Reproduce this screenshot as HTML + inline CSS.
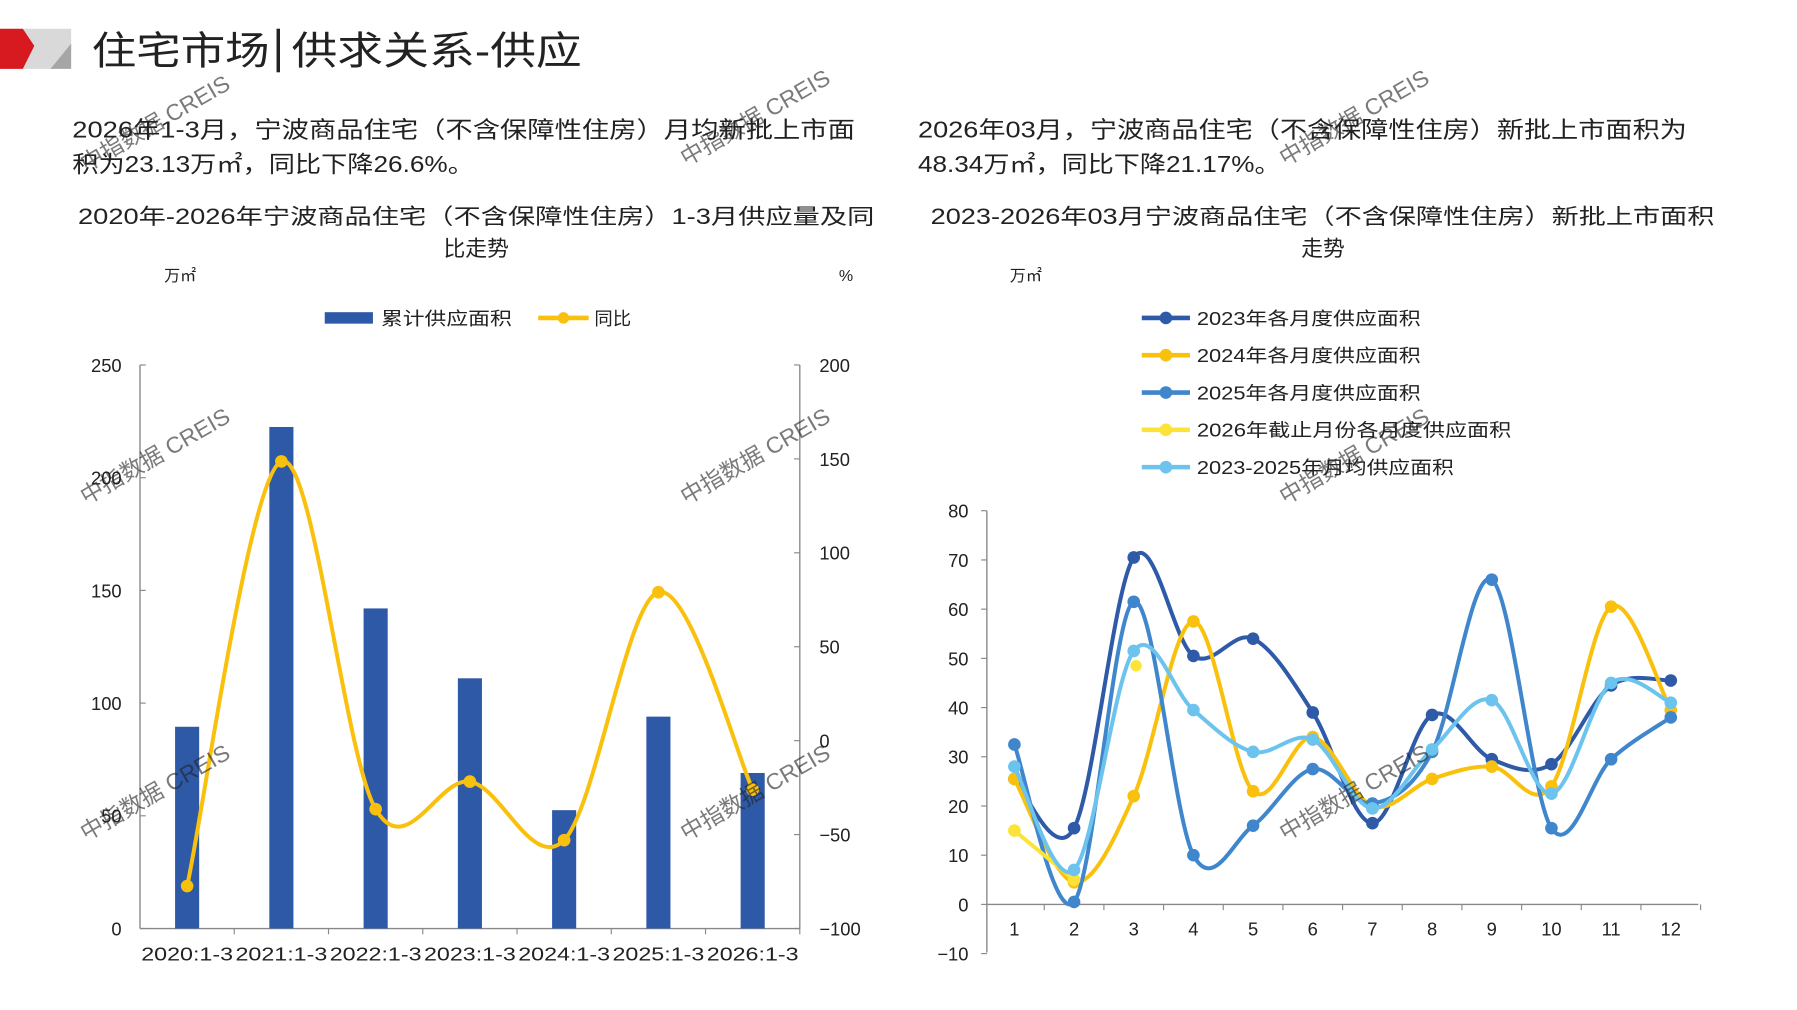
<!DOCTYPE html>
<html><head><meta charset="utf-8"><style>
html,body{margin:0;padding:0;background:#fff;width:1797px;height:1010px;overflow:hidden}
svg{display:block}
text{font-family:"Liberation Sans","Noto Sans CJK SC",sans-serif;fill:#222}
</style></head><body>
<svg id="s" width="1797" height="1010" viewBox="0 0 1566 880" preserveAspectRatio="none" xmlns="http://www.w3.org/2000/svg">
<polygon points="0,25 20,25 30,40 20,60 0,60" fill="#d71920"/>
<polygon points="20,25 62,25 62,45 48,60 20,60 30,40" fill="#d9d9d9"/>
<polygon points="62,38 62,60 44,60" fill="#a6a6a6"/>
<text x="80" y="56" font-size="34" textLength="155" lengthAdjust="spacingAndGlyphs">住宅市场</text>
<rect x="241" y="25" width="3" height="38" fill="#222"/>
<text x="254" y="56" font-size="34" textLength="253" lengthAdjust="spacingAndGlyphs">供求关系-供应</text>

<text x="63" y="120" font-size="20" textLength="682" lengthAdjust="spacingAndGlyphs">2026年1-3月，宁波商品住宅（不含保障性住房）月均新批上市面</text>
<text x="63" y="150" font-size="20" textLength="350" lengthAdjust="spacingAndGlyphs">积为23.13万㎡，同比下降26.6%。</text>
<text x="800" y="120" font-size="20" textLength="670" lengthAdjust="spacingAndGlyphs">2026年03月，宁波商品住宅（不含保障性住房）新批上市面积为</text>
<text x="800" y="150" font-size="20" textLength="316" lengthAdjust="spacingAndGlyphs">48.34万㎡，同比下降21.17%。</text>

<text x="68" y="195" font-size="19" textLength="694" lengthAdjust="spacingAndGlyphs">2020年-2026年宁波商品住宅（不含保障性住房）1-3月供应量及同</text>
<text x="415" y="223" font-size="19" text-anchor="middle">比走势</text>
<text x="811" y="195" font-size="19" textLength="683" lengthAdjust="spacingAndGlyphs">2023-2026年03月宁波商品住宅（不含保障性住房）新批上市面积</text>
<text x="1153" y="223" font-size="19" text-anchor="middle">走势</text>
<text x="143" y="245" font-size="14">万㎡</text>
<text x="731" y="245" font-size="14">%</text>
<text x="880" y="245" font-size="14">万㎡</text>

<rect x="283" y="272" width="42" height="10" fill="#2E59A7"/>
<text x="332" y="283" font-size="16" textLength="114" lengthAdjust="spacingAndGlyphs">累计供应面积</text>
<line x1="469" y1="277" x2="513" y2="277" stroke="#F9C10E" stroke-width="4"/>
<circle cx="491" cy="277" r="5" fill="#F9C10E"/>
<text x="518" y="283" font-size="16">同比</text>

<g id="left"></g>
<g id="right"></g>
<g id="rleg"></g>

<g fill="#bbb" font-size="20" opacity="0.6">
<text transform="translate(75,150) rotate(-30)">中指数据 CREIS</text>
<text transform="translate(598,145) rotate(-30)">中指数据 CREIS</text>
<text transform="translate(1120,145) rotate(-30)">中指数据 CREIS</text>
<text transform="translate(75,440) rotate(-30)">中指数据 CREIS</text>
<text transform="translate(598,440) rotate(-30)">中指数据 CREIS</text>
<text transform="translate(1120,440) rotate(-30)">中指数据 CREIS</text>
<text transform="translate(75,733) rotate(-30)">中指数据 CREIS</text>
<text transform="translate(598,733) rotate(-30)">中指数据 CREIS</text>
<text transform="translate(1120,733) rotate(-30)">中指数据 CREIS</text>
</g>
</svg>
<script>
var NS="http://www.w3.org/2000/svg";
function el(p,t,a,txt){var e=document.createElementNS(NS,t);for(var k in a)e.setAttribute(k,a[k]);if(txt!==undefined)e.textContent=txt;p.appendChild(e);return e;}
function cr(pts){var d="M"+pts[0][0]+","+pts[0][1];for(var i=0;i<pts.length-1;i++){var p0=pts[i-1]||pts[i],p1=pts[i],p2=pts[i+1],p3=pts[i+2]||p2;var c1=[p1[0]+(p2[0]-p0[0])/6,p1[1]+(p2[1]-p0[1])/6],c2=[p2[0]-(p3[0]-p1[0])/6,p2[1]-(p3[1]-p1[1])/6];d+=" C"+c1+" "+c2+" "+p2;}return d;}
var L=document.getElementById("left");
el(L,"line",{x1:122,y1:318,x2:122,y2:809,stroke:"#888","stroke-width":1.2});
el(L,"line",{x1:697,y1:318,x2:697,y2:809,stroke:"#888","stroke-width":1.2});
el(L,"line",{x1:122,y1:809,x2:697,y2:809,stroke:"#888","stroke-width":1.2});
for(var v=0;v<=250;v+=50){var y=809-v*1.964;el(L,"line",{x1:122,y1:y,x2:127,y2:y,stroke:"#888"});el(L,"text",{x:106,y:y+6,"font-size":16,"text-anchor":"end"},v);}
for(var v=-100;v<=200;v+=50){var y=809-(v+100)*1.6367;el(L,"line",{x1:692,y1:y,x2:697,y2:y,stroke:"#888"});el(L,"text",{x:714,y:y+6,"font-size":16},v<0?"−"+(-v):v);}
var bars=[89.5,222.5,142,111,52.5,94,69],labs=["2020:1-3","2021:1-3","2022:1-3","2023:1-3","2024:1-3","2025:1-3","2026:1-3"];
var yy=[772,402,705,681,732,516,688],lp=[];
for(var i=0;i<7;i++){var cx=122+82.14*(i+0.5);el(L,"rect",{x:cx-10.5,y:809-bars[i]*1.964,width:21,height:bars[i]*1.964,fill:"#2E59A7"});
el(L,"line",{x1:122+82.14*(i+1),y1:809,x2:122+82.14*(i+1),y2:814,stroke:"#888"});
el(L,"text",{x:cx,y:837,"font-size":16,"text-anchor":"middle",textLength:80,lengthAdjust:"spacingAndGlyphs"},labs[i]);lp.push([cx,yy[i]]);}
el(L,"path",{d:cr(lp),fill:"none",stroke:"#F9C10E","stroke-width":3.5});
lp.forEach(function(p){el(L,"circle",{cx:p[0],cy:p[1],r:5.5,fill:"#F9C10E"});});
var R=document.getElementById("right");
function Y(v){return 788-v*4.2875;}
el(R,"line",{x1:860,y1:445,x2:860,y2:830,stroke:"#888","stroke-width":1.2});
el(R,"line",{x1:860,y1:788,x2:1480,y2:788,stroke:"#888","stroke-width":1.2});
for(var v=-10;v<=80;v+=10){var y=Y(v);el(R,"line",{x1:855,y1:y,x2:860,y2:y,stroke:"#888"});el(R,"text",{x:844,y:y+6,"font-size":16,"text-anchor":"end"},v<0?"−10":v);}
for(var m=1;m<=12;m++){var x=884+52*(m-1);el(R,"text",{x:x,y:815,"font-size":16,"text-anchor":"middle"},m);el(R,"line",{x1:x+26,y1:788,x2:x+26,y2:793,stroke:"#888"});}
var S=[
{c:"#2E5AA8",n:"2023年各月度供应面积",w:195,d:[25.5,15.5,70.5,50.5,54,39,16.5,38.5,29.5,28.5,44.5,45.5]},
{c:"#F9C10E",n:"2024年各月度供应面积",w:195,d:[25.5,4.5,22,57.5,23,34,20,25.5,28,24,60.5,39.5]},
{c:"#3F86CC",n:"2025年各月度供应面积",w:195,d:[32.5,0.5,61.5,10,16,27.5,20.5,31,66,15.5,29.5,38]},
{c:"#FBE338",n:"2026年截止月份各月度供应面积",w:274,d:[15,5]},
{c:"#6CC3EE",n:"2023-2025年月均供应面积",w:224,d:[28,7,51.5,39.5,31,33.5,19.5,31.5,41.5,22.5,45,41]}];
var G=document.getElementById("rleg");
S.forEach(function(s,k){var pts=s.d.map(function(v,i){return [884+52*i,Y(v)];});
el(R,"path",{d:cr(pts),fill:"none",stroke:s.c,"stroke-width":3.5});
pts.forEach(function(p){el(R,"circle",{cx:p[0],cy:p[1],r:5.5,fill:s.c});});
if(k==3){el(R,"circle",{cx:990,cy:Y(48.5),r:5,fill:s.c});}
var ly=277+32.5*k;el(G,"line",{x1:995,y1:ly,x2:1037,y2:ly,stroke:s.c,"stroke-width":4});el(G,"circle",{cx:1016,cy:ly,r:5.5,fill:s.c});
el(G,"text",{x:1043,y:ly+6,"font-size":16,textLength:s.w,lengthAdjust:"spacingAndGlyphs"},s.n);});
</script>
</body></html>
